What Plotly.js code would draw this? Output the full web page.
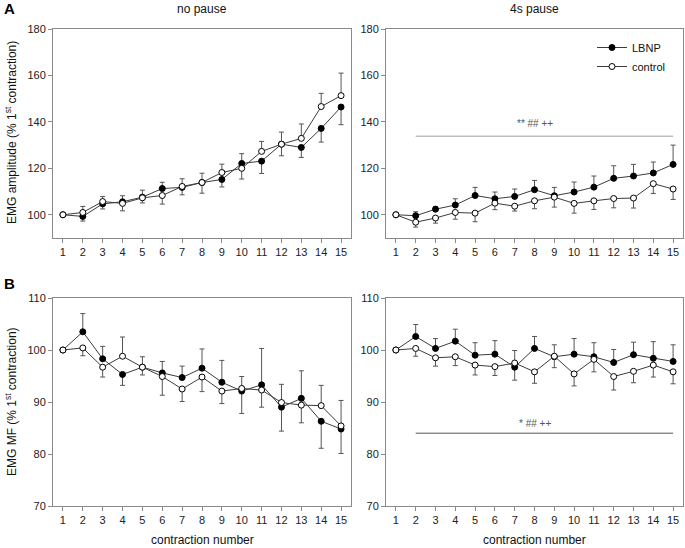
<!DOCTYPE html>
<html>
<head>
<meta charset="utf-8">
<script src="https://cdn.plot.ly/plotly-3.0.1.min.js"></script>
<style>
  html, body { margin: 0; padding: 0; background: #fff; }
  #chart { width: 685px; height: 548px; }
</style>
</head>
<body>
<div id="chart"></div>
<script>
/* EMG amplitude / MF over 15 contractions — LBNP vs control */
const contraction = [1, 2, 3, 4, 5, 6, 7, 8, 9, 10, 11, 12, 13, 14, 15];

// A, no pause
const ampNoPauseLbnp      = [100, 99.3, 104.7, 105.6, 107.6, 111.3, 111.8, 113.9, 115.2, 122.1, 123.1, 130.4, 129.0, 137.2, 146.4];
const ampNoPauseLbnpUp    = [0, 0, 0, 2.6, 3.0, 2.7, 0, 0, 0, 4.2, 0, 0, 0, 0, 0];
const ampNoPauseLbnpDown  = [0, 2.0, 2.2, 0, 0, 0, 3.2, 4.6, 3.2, 0, 5.3, 5.0, 4.3, 5.9, 7.6];
const ampNoPauseCtrl      = [100, 101.0, 105.7, 104.9, 107.3, 108.3, 112.2, 113.9, 118.2, 120.0, 127.3, 130.4, 132.9, 146.6, 151.3];
const ampNoPauseCtrlUp    = [0, 2.6, 2.2, 0, 0, 0, 3.3, 4.0, 3.6, 0, 4.3, 5.2, 6.2, 5.7, 9.7];
const ampNoPauseCtrlDown  = [0, 0, 0, 3.2, 2.2, 3.7, 0, 0, 0, 4.6, 0, 0, 0, 0, 0];

// A, 4s pause
const amp4sLbnp     = [100, 99.6, 102.4, 104.2, 108.3, 106.9, 107.9, 110.8, 108.2, 109.8, 111.9, 115.7, 116.7, 118.0, 121.7];
const amp4sLbnpUp   = [0, 1.7, 1.2, 2.7, 3.5, 2.9, 3.2, 4.0, 3.6, 4.3, 4.8, 5.4, 5.0, 4.7, 8.3];
const amp4sCtrl     = [100, 96.8, 98.6, 101.0, 100.7, 105.0, 103.7, 106.0, 107.6, 104.9, 106.0, 107.0, 107.2, 113.4, 111.1];
const amp4sCtrlDown = [0, 2.1, 2.2, 2.9, 3.7, 2.8, 2.1, 3.4, 4.3, 4.2, 3.7, 4.0, 4.3, 4.2, 4.5];

// B, no pause
const mfNoPauseLbnp     = [100, 103.5, 98.3, 95.3, 96.7, 95.6, 94.7, 96.5, 93.8, 92.1, 93.3, 89.0, 90.7, 86.3, 84.8];
const mfNoPauseLbnpUp   = [0, 3.5, 2.4, 0, 2.0, 2.2, 2.2, 3.7, 4.2, 0, 7.0, 0, 5.3, 0, 0];
const mfNoPauseLbnpDown = [0, 0, 0, 2.1, 0, 0, 0, 0, 0, 4.3, 0, 4.6, 0, 5.2, 4.7];
const mfNoPauseCtrl     = [100, 100.4, 96.7, 98.8, 96.7, 94.9, 92.5, 94.8, 92.1, 92.6, 92.3, 89.9, 89.4, 89.3, 85.4];
const mfNoPauseCtrlUp   = [0, 0, 0, 3.7, 0, 0, 0, 0, 0, 2.3, 0, 3.5, 0, 3.9, 4.9];
const mfNoPauseCtrlDown = [0, 1.5, 1.9, 0, 1.5, 3.6, 2.4, 2.8, 2.4, 0, 3.3, 0, 3.4, 0, 0];

// B, 4s pause
const mf4sLbnp     = [100, 102.6, 100.3, 101.7, 99.0, 99.2, 96.7, 100.3, 98.7, 99.2, 98.7, 97.6, 99.1, 98.4, 97.8];
const mf4sLbnpUp   = [0, 2.3, 1.9, 2.3, 2.4, 2.6, 0, 2.3, 2.3, 3.0, 2.7, 2.5, 2.4, 3.2, 3.2];
const mf4sLbnpDown = [0, 0, 0, 0, 0, 0, 2.5, 0, 0, 0, 0, 0, 0, 0, 0];
const mf4sCtrl     = [100, 100.3, 98.5, 98.7, 97.1, 96.8, 97.5, 95.8, 98.8, 95.4, 98.2, 94.9, 95.9, 97.1, 95.8];
const mf4sCtrlUp   = [0, 0, 0, 0, 0, 0, 2.4, 0, 0, 0, 0, 0, 0, 0, 0];
const mf4sCtrlDown = [0, 1.5, 1.6, 1.7, 1.9, 1.7, 0, 2.2, 2.2, 2.3, 2.4, 2.6, 2.2, 2.3, 2.3];

// significance bars (4s pause panels)
const sigSpan = [2, 15];
const sigAmpLevel = 133.8, sigAmpText = "** ## ++";
const sigMfLevel = 84.0, sigMfText = "* ## ++";

const ampTicks = [100, 120, 140, 160, 180];
const mfTicks = [70, 80, 90, 100, 110];

const FONT = "Liberation Sans, Arial, sans-serif";
const zeros = contraction.map(() => 0);

function series(name, x, y, up, down, xa, ya, filled, legend) {
  return {
    type: "scatter", mode: "lines+markers", name, x, y,
    xaxis: xa, yaxis: ya, showlegend: !!legend, cliponaxis: false,
    line: { color: "#3c3c3c", width: 1 },
    marker: { size: 6, symbol: "circle", color: filled ? "#000" : "#fff",
              line: { color: "#000", width: 1 } },
    error_y: { type: "data", symmetric: false, array: up, arrayminus: down || zeros,
               color: "#555", thickness: 1, width: 2.5 },
    hoverinfo: "x+y",
  };
}
function sigLine(level, xa, ya, col, w) {
  return { type: "scatter", mode: "lines", x: sigSpan, y: sigSpan.map(() => level),
    xaxis: xa, yaxis: ya, showlegend: false, hoverinfo: "skip",
    line: { color: col, width: w } };
}

const traces = [
  series("LBNP", contraction, ampNoPauseLbnp, ampNoPauseLbnpUp, ampNoPauseLbnpDown, "x", "y", true),
  series("control", contraction, ampNoPauseCtrl, ampNoPauseCtrlUp, ampNoPauseCtrlDown, "x", "y", false),
  sigLine(sigAmpLevel, "x2", "y2", "#bdbdbd", 1.5),
  series("LBNP", contraction, amp4sLbnp, amp4sLbnpUp, zeros, "x2", "y2", true, true),
  series("control", contraction, amp4sCtrl, zeros, amp4sCtrlDown, "x2", "y2", false, true),
  series("LBNP", contraction, mfNoPauseLbnp, mfNoPauseLbnpUp, mfNoPauseLbnpDown, "x3", "y3", true),
  series("control", contraction, mfNoPauseCtrl, mfNoPauseCtrlUp, mfNoPauseCtrlDown, "x3", "y3", false),
  sigLine(sigMfLevel, "x4", "y4", "#555", 1),
  series("LBNP", contraction, mf4sLbnp, mf4sLbnpUp, mf4sLbnpDown, "x4", "y4", true),
  series("control", contraction, mf4sCtrl, mf4sCtrlUp, mf4sCtrlDown, "x4", "y4", false),
];

const W = 685, H = 548;
const px = v => v / W, py = v => 1 - v / H;
const colL = [px(53), px(351)], colR = [px(386), px(683)];
const rowT = [py(238), py(29)], rowB = [py(506), py(298)];

const xBase = (dom, anchor) => ({
  domain: dom, anchor, range: [0.5, 15.5], tickvals: contraction,
  showline: true, mirror: true, linecolor: "#8a8a8a", linewidth: 1,
  ticks: "outside", ticklen: 4, tickcolor: "#8a8a8a", showgrid: false, zeroline: false,
  tickfont: { family: FONT, size: 11, color: "#222" }, fixedrange: true,
});
const yBase = (dom, anchor, range, ticks) => ({
  domain: dom, anchor, range, tickvals: ticks,
  showline: true, mirror: true, linecolor: "#8a8a8a", linewidth: 1,
  ticks: "outside", ticklen: 4, tickcolor: "#8a8a8a", showgrid: false, zeroline: false,
  tickfont: { family: FONT, size: 11, color: "#222" }, fixedrange: true,
});

const note = (x, y, text, opts) => Object.assign({
  x, y, xref: "paper", yref: "paper", text, showarrow: false,
  xanchor: "center", yanchor: "middle",
  font: { family: FONT, size: 12, color: "#111" },
}, opts || {});

const layout = {
  width: W, height: H, margin: { l: 0, r: 0, t: 0, b: 0 },
  paper_bgcolor: "#fff", plot_bgcolor: "#fff",
  font: { family: FONT, size: 11, color: "#222" },
  xaxis: xBase(colL, "y"), yaxis: yBase(rowT, "x", [90, 180], ampTicks),
  xaxis2: xBase(colR, "y2"), yaxis2: yBase(rowT, "x2", [90, 180], ampTicks),
  xaxis3: xBase(colL, "y3"), yaxis3: yBase(rowB, "x3", [70, 110], mfTicks),
  xaxis4: xBase(colR, "y4"), yaxis4: yBase(rowB, "x4", [70, 110], mfTicks),
  legend: {
    x: px(592), y: py(33), xanchor: "left", yanchor: "top",
    bgcolor: "rgba(0,0,0,0)", font: { family: FONT, size: 11, color: "#111" },
    tracegroupgap: 0, itemwidth: 30,
  },
  annotations: [
    note(px(2), py(9), "<b>A</b>", { xanchor: "left", font: { family: FONT, size: 15, color: "#000" } }),
    note(px(2), py(283), "<b>B</b>", { xanchor: "left", font: { family: FONT, size: 15, color: "#000" } }),
    note((colL[0] + colL[1]) / 2, py(9), "no pause"),
    note((colR[0] + colR[1]) / 2, py(9), "4s pause"),
    note((colL[0] + colL[1]) / 2, py(540), "contraction number"),
    note((colR[0] + colR[1]) / 2, py(540), "contraction number"),
    note(px(11), py(133), "EMG amplitude (% 1<sup>st</sup> contraction)", { textangle: -90 }),
    note(px(11), py(402), "EMG MF (% 1<sup>st</sup> contraction)", { textangle: -90 }),
    { x: 8, y: sigAmpLevel + 5.7, xref: "x2", yref: "y2", text: sigAmpText, showarrow: false,
      font: { family: FONT, size: 10, color: "#555" } },
    { x: 8, y: sigMfLevel + 1.9, xref: "x4", yref: "y4", text: sigMfText, showarrow: false,
      font: { family: FONT, size: 10, color: "#555" } },
  ],
};

Plotly.newPlot("chart", traces, layout, { displayModeBar: false, staticPlot: true });
</script>
</body>
</html>
